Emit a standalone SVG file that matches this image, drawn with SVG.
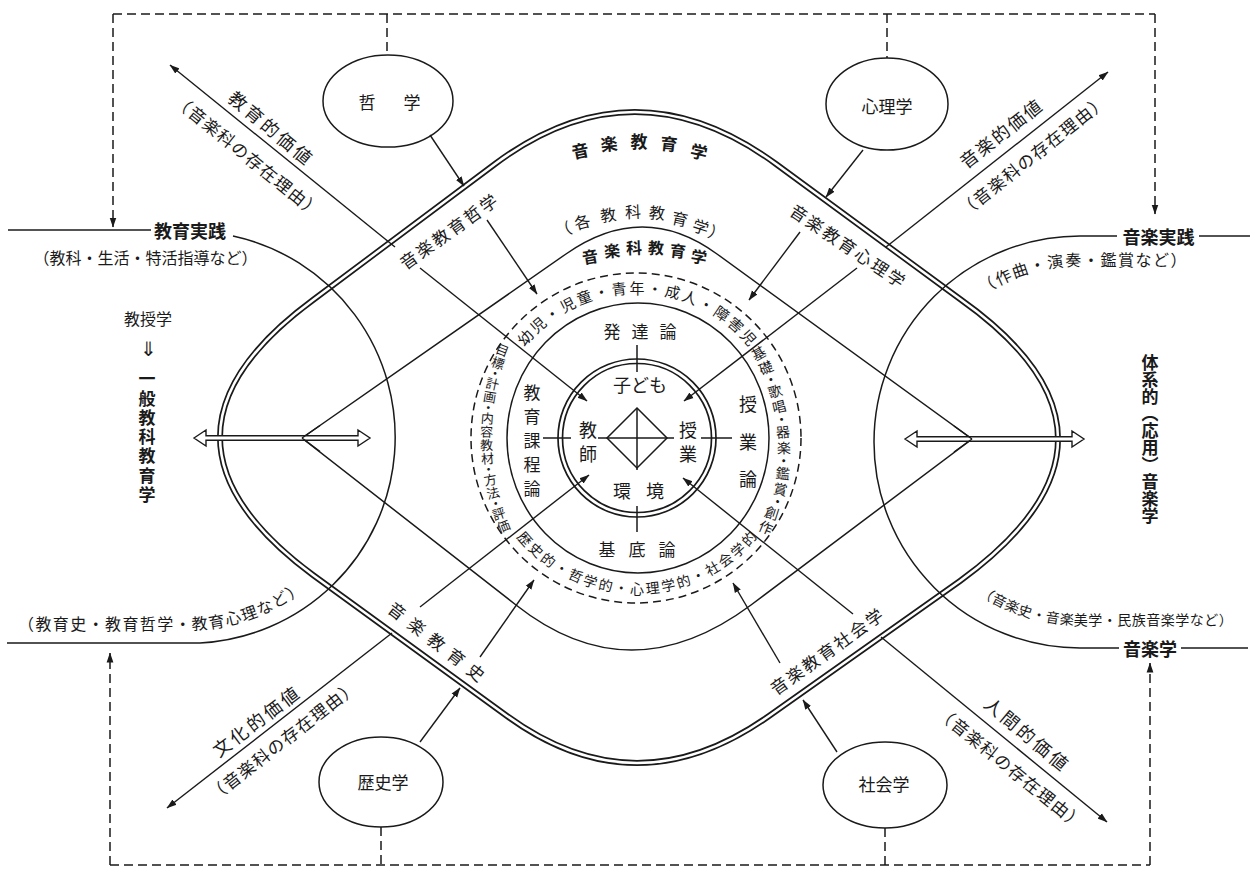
<svg xmlns="http://www.w3.org/2000/svg" width="1254" height="870" viewBox="0 0 1254 870">
<defs>
<marker id="ah" viewBox="0 0 10 8" refX="9.5" refY="4" markerWidth="10" markerHeight="8" markerUnits="userSpaceOnUse" orient="auto"><path d="M0,0.6 L10,4 L0,7.4 Z" fill="#1a1a1a"/></marker>
<path id="outerShape" d="M313,300 L495,164 Q634,60 776,164 L960,299 Q1156,438 960,581 L769,716 Q636,810 507,716 L313,575 Q127,437 313,300 Z"/>
<path id="arcEdu" d="M15,630 H187 A193 193 0 0 0 334.8,561.1"/>
<path id="arcMusicTop" d="M955.5,317.5 A176 176 0 0 1 1080,266 H1250"/>
<path id="arcMusicBottom" d="M950.6,571.4 A183 183 0 0 0 1080,625 H1250"/>
</defs>
<style>
text{font-family:"Noto Sans CJK JP","Noto Sans CJK SC",sans-serif;fill:#1a1a1a}
.c{text-anchor:middle;dominant-baseline:central}
.f13{font-size:13px}.f14{font-size:14px}.f15{font-size:15px}.f16{font-size:16px}.f17{font-size:17px}.f18{font-size:18px}.f20{font-size:20px}
.b{font-weight:700}
.ln{fill:none;stroke:#1a1a1a;stroke-width:1.5}
.ar{fill:none;stroke:#1a1a1a;stroke-width:1.4;marker-end:url(#ah)}
.dsh{fill:none;stroke:#1a1a1a;stroke-width:1.5;stroke-dasharray:9 5}
.dshA{fill:none;stroke:#1a1a1a;stroke-width:1.5;stroke-dasharray:9 5;marker-end:url(#ah)}
.dc{fill:none;stroke:#1a1a1a;stroke-width:1.5;stroke-dasharray:8 5}
.hollow{fill:#fff;stroke:#1a1a1a;stroke-width:1.4;stroke-linejoin:miter}
.vt{writing-mode:vertical-rl;text-anchor:middle}
</style>
<rect width="1254" height="870" fill="#fff"/>

<!-- outer region: 音楽教育学 (double line) -->
<g id="region-music-education">
<use href="#outerShape" fill="none" stroke="#1a1a1a" stroke-width="6"/>
<use href="#outerShape" fill="none" stroke="#fff" stroke-width="2.6"/>
<text class="c f17 b" transform="translate(580,150) rotate(-12)">音</text>
<text class="c f17 b" transform="translate(609,143) rotate(-6)">楽</text>
<text class="c f17 b" transform="translate(639,140)">教</text>
<text class="c f17 b" transform="translate(669,143) rotate(6)">育</text>
<text class="c f17 b" transform="translate(699,151) rotate(12)">学</text>
</g>

<!-- inner region: 音楽科教育学 -->
<g id="region-subject-education">
<path class="ln" d="M302,438 L566,254 Q643,200 717,254 L972,439 L751,605 Q630,695 516,605 Z"/>
<text class="c f16" transform="translate(563,229) rotate(-22)">（</text>
<text class="c f16" transform="translate(582,221) rotate(-16)">各</text>
<text class="c f16" transform="translate(608,214) rotate(-9)">教</text>
<text class="c f16" transform="translate(633,211) rotate(-2)">科</text>
<text class="c f16" transform="translate(657,212) rotate(5)">教</text>
<text class="c f16" transform="translate(680,218) rotate(12)">育</text>
<text class="c f16" transform="translate(701,226) rotate(18)">学</text>
<text class="c f16" transform="translate(717,233) rotate(23)">）</text>
<text class="c f16 b" transform="translate(590,256) rotate(-10)">音</text>
<text class="c f16 b" transform="translate(612,250) rotate(-6)">楽</text>
<text class="c f16 b" transform="translate(634,247) rotate(-2)">科</text>
<text class="c f16 b" transform="translate(656,247) rotate(2)">教</text>
<text class="c f16 b" transform="translate(678,250) rotate(6)">育</text>
<text class="c f16 b" transform="translate(699,256) rotate(10)">学</text>
</g>

<!-- 教育実践 / 一般教科教育学 side -->
<g id="education-practice">
<path class="ln" d="M8,230 H151"/>
<path class="ln" d="M233,236 A206 206 0 0 1 200,643 H7"/>
<text class="c f18 b" x="190" y="230">教育実践</text>
<text class="c f16" x="145.5" y="257">（教科・生活・特活指導など）</text>
<text class="f16" style="letter-spacing:1.4px"><textPath href="#arcEdu" startOffset="3">（教育史・教育哲学・教育心理など）</textPath></text>
<text class="c f16" x="148" y="318">教授学</text>
<text class="c f20" x="148" y="347">⇓</text>
<text class="c f17 b" x="147 147 147 147 147 147 147" y="377 397 416 435 454 474 493">一般教科教育学</text>
</g>

<!-- 音楽実践 / 体系的音楽学 side -->
<g id="music-practice">
<path class="ln" d="M1117,236 H1080 A206 206 0 0 0 874,442 A206 206 0 0 0 1080,648 H1119"/>
<path class="ln" d="M1199,236 H1250"/>
<path class="ln" d="M1181,648 H1248"/>
<text class="c f18 b" x="1158.5" y="236">音楽実践</text>
<text class="c f18 b" x="1150" y="648">音楽学</text>
<text class="f16" style="letter-spacing:1.5px"><textPath href="#arcMusicTop" startOffset="36">（作曲・演奏・鑑賞など）</textPath></text>
<text class="f14" style="letter-spacing:0.5px"><textPath href="#arcMusicBottom" startOffset="36">（音楽史・音楽美学・民族音楽学など）</textPath></text>
<text class="vt f17 b" x="1150" y="439">体系的（応用）音楽学</text>
</g>

<!-- hollow double arrows -->
<g id="double-arrows">
<polygon class="hollow" points="194,438 206,430 206,435.8 358,435.8 358,430 370,438 358,446 358,440.2 206,440.2 206,446"/>
<polygon class="hollow" points="905,439 917,431 917,436.8 1072,436.8 1072,431 1084,439 1072,447 1072,441.2 917,441.2 917,447"/>
<path class="ln" d="M302,438 L320,425.5 M302,438 L320,451.5"/>
<path class="ln" d="M972,439 L954,426 M972,439 L954,452"/>
</g>

<!-- band: dashed circle with target / content texts -->
<g id="band-targets">
<circle class="dc" cx="636" cy="438" r="165"/>
<g class="c f15">
<text transform="translate(524.8,337) rotate(-48)">幼</text>
<text transform="translate(537.6,324.3) rotate(-41.1)">児</text>
<text transform="translate(551.9,313.2) rotate(-34.3)">・</text>
<text transform="translate(567.4,304) rotate(-27.4)">児</text>
<text transform="translate(584,296.6) rotate(-20.6)">童</text>
<text transform="translate(601.2,291.3) rotate(-13.7)">・</text>
<text transform="translate(619,288.1) rotate(-6.9)">青</text>
<text transform="translate(637,287)">年</text>
<text transform="translate(655,288.1) rotate(6.9)">・</text>
<text transform="translate(672.8,291.3) rotate(13.7)">成</text>
<text transform="translate(690,296.6) rotate(20.6)">人</text>
<text transform="translate(706.6,304) rotate(27.4)">・</text>
<text transform="translate(722.1,313.2) rotate(34.3)">障</text>
<text transform="translate(736.4,324.3) rotate(41.1)">害</text>
<text transform="translate(749.2,337) rotate(48)">児</text>
</g>
<g class="c f14">
<text transform="translate(525.5,538.4) rotate(48)">歴</text>
<text transform="translate(536.6,549.5) rotate(42)">史</text>
<text transform="translate(548.8,559.4) rotate(36)">的</text>
<text transform="translate(562,567.9) rotate(30)">・</text>
<text transform="translate(576,575) rotate(24)">哲</text>
<text transform="translate(590.6,580.7) rotate(18)">学</text>
<text transform="translate(605.8,584.7) rotate(12)">的</text>
<text transform="translate(621.3,587.2) rotate(6)">・</text>
<text transform="translate(637,588)">心</text>
<text transform="translate(652.7,587.2) rotate(-6)">理</text>
<text transform="translate(668.2,584.7) rotate(-12)">学</text>
<text transform="translate(683.4,580.7) rotate(-18)">的</text>
<text transform="translate(698,575) rotate(-24)">・</text>
<text transform="translate(712,567.9) rotate(-30)">社</text>
<text transform="translate(725.2,559.4) rotate(-36)">会</text>
<text transform="translate(737.4,549.5) rotate(-42)">学</text>
<text transform="translate(748.5,538.4) rotate(-48)">的</text>
</g>
<g class="c f13">
<text transform="translate(502.6,349.8) rotate(20.9)">目</text>
<text transform="translate(498.1,362.5) rotate(17.8)">標</text>
<text transform="translate(495.1,372.8) rotate(15.2)">・</text>
<text transform="translate(492.5,383.2) rotate(12.7)">計</text>
<text transform="translate(489.9,396.4) rotate(9.6)">画</text>
<text transform="translate(488.3,407) rotate(7)">・</text>
<text transform="translate(487.3,417.7) rotate(4.5)">内</text>
<text transform="translate(486.6,431.1) rotate(1.4)">容</text>
<text transform="translate(486.6,444.6) rotate(-1.8)">教</text>
<text transform="translate(487.4,458) rotate(-4.9)">材</text>
<text transform="translate(488.6,468.7) rotate(-7.4)">・</text>
<text transform="translate(490.2,479.3) rotate(-10)">方</text>
<text transform="translate(492.9,492.5) rotate(-13.1)">法</text>
<text transform="translate(495.5,502.9) rotate(-15.6)">・</text>
<text transform="translate(498.7,513.2) rotate(-18.2)">評</text>
<text transform="translate(503.2,525.8) rotate(-21.3)">価</text>
</g>
<g class="c f14">
<text transform="translate(758.4,352.8) rotate(-29.3)">基</text>
<text transform="translate(765.6,367) rotate(-24.7)">礎</text>
<text transform="translate(770.6,378.8) rotate(-21.1)">・</text>
<text transform="translate(774.8,390.8) rotate(-17.4)">歌</text>
<text transform="translate(778.9,406.2) rotate(-12.9)">唱</text>
<text transform="translate(781.4,418.7) rotate(-9.2)">・</text>
<text transform="translate(783,431.4) rotate(-5.6)">器</text>
<text transform="translate(784,447.3) rotate(-1.1)">楽</text>
<text transform="translate(783.8,460.1) rotate(2.6)">・</text>
<text transform="translate(782.8,472.8) rotate(6.2)">鑑</text>
<text transform="translate(780.5,488.6) rotate(10.8)">賞</text>
<text transform="translate(777.7,501) rotate(14.4)">・</text>
<text transform="translate(772,512.5) rotate(18)">創</text>
<text transform="translate(766,527) rotate(22.6)">作</text>
</g>
</g>

<!-- ring of theories -->
<g id="ring-theories">
<ellipse class="ln" cx="638" cy="438" rx="131" ry="135"/>
<text class="c f17" x="612 640 668" y="330">発達論</text>
<text class="c f17" x="607 637 667" y="548">基底論</text>
<text class="c f17" x="532 532 532 532 532" y="391 415 439 463 487">教育課程論</text>
<text class="c f18" x="748 748 748" y="403 441 478">授業論</text>
</g>

<!-- core: 子ども・教師・授業・環境 -->
<g id="core">
<circle class="ln" cx="637" cy="438" r="79" style="stroke-width:1.7"/>
<circle class="ln" cx="637" cy="438" r="74.5" style="stroke-width:1.7"/>
<path class="ln" d="M637,345 V372 M637,506 V532 M543,438 H571 M701,438 H732"/>
<path class="ln" d="M637,408 L667,438 L637,468 L607,438 Z"/>
<path class="ln" d="M637,408 V470 M598,438 H674"/>
<text class="c f18" x="622 640 658" y="384">子ども</text>
<text class="c f18" x="622 655" y="490">環境</text>
<text class="c f18" x="588 588" y="429 453">教師</text>
<text class="c f18" x="688 688" y="429 453">授業</text>
</g>

<!-- discipline nodes -->
<g id="node-philosophy">
<ellipse class="ln" cx="388" cy="101" rx="65" ry="46"/>
<text class="c f17" x="367 412" y="101">哲学</text>
</g>
<g id="node-psychology">
<ellipse class="ln" cx="887" cy="104" rx="61" ry="46"/>
<text class="c f17" x="887" y="105">心理学</text>
</g>
<g id="node-history">
<ellipse class="ln" cx="381" cy="782" rx="62" ry="45"/>
<text class="c f17" x="383" y="781">歴史学</text>
</g>
<g id="node-sociology">
<ellipse class="ln" cx="885" cy="785" rx="62" ry="43"/>
<text class="c f17" x="884" y="783">社会学</text>
</g>

<!-- edge labels of the sub-disciplines -->
<g id="labels-subdisciplines">
<text class="c f17" transform="translate(448,231) rotate(-35.5)" x="-49 -29.4 -9.8 9.8 29.4 49" y="0 0 0 0 0 0">音楽教育哲学</text>
<text class="c f17" transform="translate(848,245) rotate(33.8)" x="-58.5 -39 -19.5 0 19.5 39 58.5" y="0 0 0 0 0 0 0">音楽教育心理学</text>
<text class="c f17" transform="translate(437,641) rotate(37.8)" x="-50 -25 0 25 50" y="0 0 0 0 0">音楽教育史</text>
<text class="c f17" transform="translate(826,651) rotate(-35.6)" x="-58.5 -39 -19.5 0 19.5 39 58.5" y="0 0 0 0 0 0 0">音楽教育社会学</text>
</g>

<!-- value labels -->
<g id="labels-values">
<text class="c f18" transform="translate(271,127) rotate(40)" x="-42 -21 0 21 42" y="0 0 0 0 0">教育的価値</text>
<text class="c f17" transform="translate(248,155) rotate(39)" x="-82.8 -64.4 -46 -27.6 -9.2 9.2 27.6 46 64.4 82.8" y="0 0 0 0 0 0 0 0 0 0">（音楽科の存在理由）</text>
<text class="c f18" transform="translate(1000,133) rotate(-38)" x="-40 -20 0 20 40" y="0 0 0 0 0">音楽的価値</text>
<text class="c f17" transform="translate(1032,155) rotate(-38.5)" x="-82.8 -64.4 -46 -27.6 -9.2 9.2 27.6 46 64.4 82.8" y="0 0 0 0 0 0 0 0 0 0">（音楽科の存在理由）</text>
<text class="c f18" transform="translate(255,721) rotate(-37)" x="-42 -21 0 21 42" y="0 0 0 0 0">文化的価値</text>
<text class="c f17" transform="translate(282,740) rotate(-38)" x="-82.8 -64.4 -46 -27.6 -9.2 9.2 27.6 46 64.4 82.8" y="0 0 0 0 0 0 0 0 0 0">（音楽科の存在理由）</text>
<text class="c f18" transform="translate(1027,733) rotate(40)" x="-42 -21 0 21 42" y="0 0 0 0 0">人間的価値</text>
<text class="c f17" transform="translate(1011,767) rotate(39)" x="-82.8 -64.4 -46 -27.6 -9.2 9.2 27.6 46 64.4 82.8" y="0 0 0 0 0 0 0 0 0 0">（音楽科の存在理由）</text>
</g>

<!-- connectors -->
<g id="connectors">
<path class="dsh" d="M113,14 H1155"/>
<path class="dshA" d="M113,14 V227"/>
<path class="dshA" d="M1155,14 V214"/>
<path class="dsh" d="M387,14 V55"/>
<path class="dsh" d="M887,14 V58"/>
<path class="dsh" d="M110,865 H1150"/>
<path class="dshA" d="M110,865 V653"/>
<path class="dshA" d="M1150,865 V663"/>
<path class="dsh" d="M381,827 V865"/>
<path class="dsh" d="M885,828 V865"/>
<path class="ar" d="M430,135 L464,186"/>
<path class="ar" d="M863,150 L826,197"/>
<path class="ar" d="M420,742 L460,688"/>
<path class="ar" d="M837,752 L803,700"/>
<path class="ar" d="M487,220 L537,294"/>
<path class="ar" d="M800,232 L749,300"/>
<path class="ar" d="M480,657 L534,580"/>
<path class="ar" d="M780,663 L733,583"/>
<path class="ar" d="M420,268 L587,401"/>
<path class="ar" d="M857,268 L684,401"/>
<path class="ar" d="M420,607 L589,475"/>
<path class="ar" d="M853,614 L683,478"/>
<path class="ar" d="M395,247 L170,65"/>
<path class="ar" d="M886,247 L1108,72"/>
<path class="ar" d="M392,633 L167,808"/>
<path class="ar" d="M881,637 L1107,822"/>
</g>
</svg>
